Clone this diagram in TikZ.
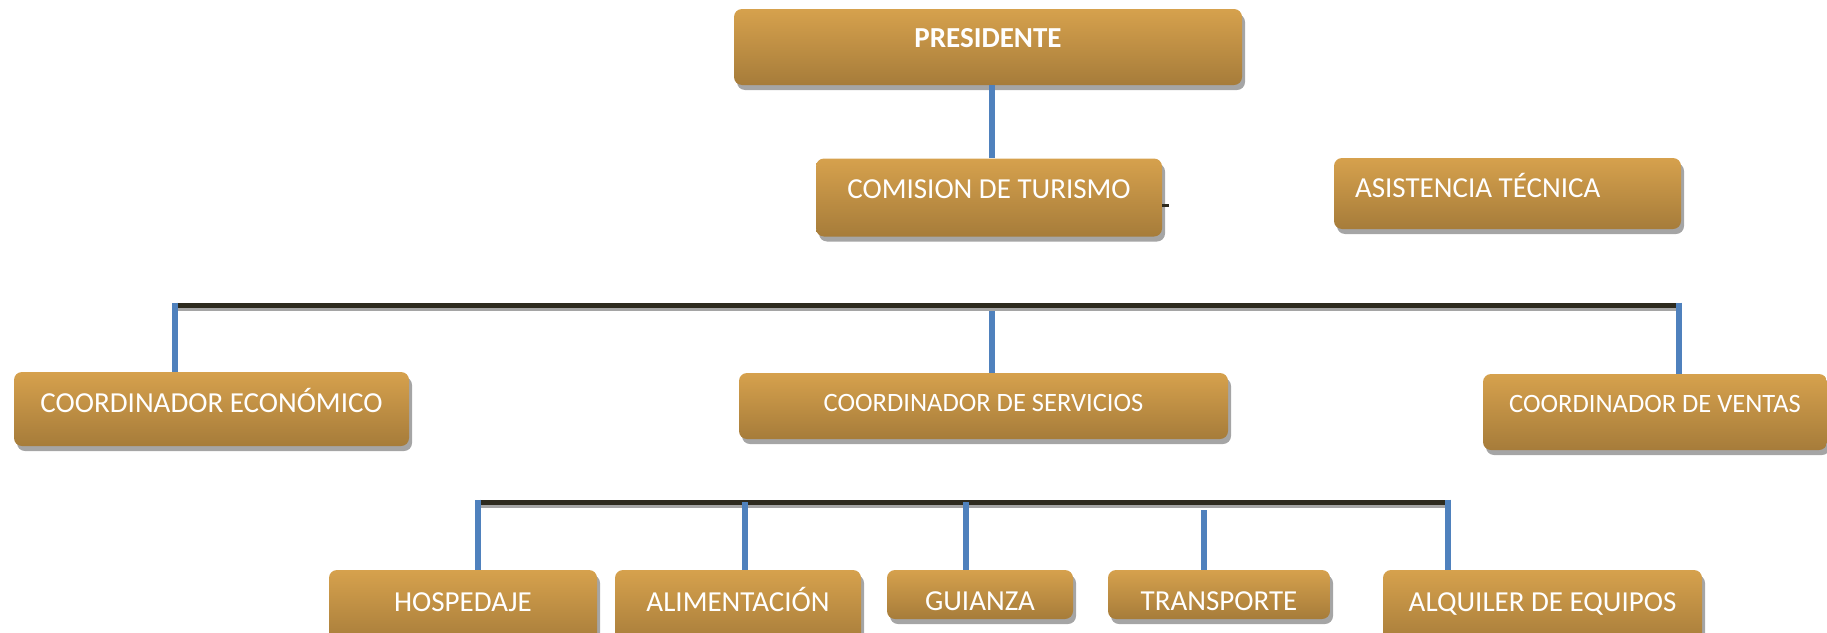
\documentclass[tikz,border=0pt]{standalone}
\usepackage{fontspec}
\setmainfont{Carlito}
\usepackage{tikz}
\usetikzlibrary{shadows}

\definecolor{oroA}{RGB}{214,161,77}
\definecolor{oroB}{RGB}{166,124,58}
\definecolor{azul}{RGB}{79,129,189}
\definecolor{barra}{RGB}{45,42,30}
\definecolor{sombra}{RGB}{165,165,165}

\tikzset{
    caja/.style={rounded corners=8pt, top color=oroA, bottom color=oroB,
        text=white, inner sep=0pt, font=\fontsize{29}{34}\selectfont,
        text height=18.7pt,
        drop shadow={shadow xshift=3pt, shadow yshift=-5pt, fill=sombra, opacity=1}},
    chica/.style={font=\fontsize{26.5}{31}\selectfont, text height=17.1pt},
    rama/.style={draw=azul, line width=6pt},
    bus/.style={draw=barra, line width=5pt},
    bussombra/.style={draw=sombra, line width=4pt}
}

\begin{document}
\begin{tikzpicture}[x=1pt, y=-1pt]
            \clip (0, 0) rectangle (1827, 632);
            \node [caja, font=\fontsize{29}{34}\selectfont\bfseries,
                minimum width=508, minimum height=76, text depth=17pt]
                (pres) at (988, 47) {PRESIDENTE};
            \node [caja, minimum width=346, minimum height=78, text depth=17pt]
                (comision) at (989, 197.5) {COMISION DE TURISMO};
            \node [caja, inner xsep=21, minimum height=71, text depth=11pt]
                (asist) at (1507.5, 193.5) {\makebox[305pt][l]{ASISTENCIA TÉCNICA}};
            \node [caja, minimum width=395, minimum height=74, text depth=12pt]
                (econ) at (211.5, 409) {COORDINADOR ECONÓMICO};
            \node [caja, chica, minimum width=489, minimum height=66, text depth=6pt]
                (serv) at (983.5, 406) {COORDINADOR DE SERVICIOS};
            \node [caja, chica, minimum width=344, minimum height=76, text depth=16pt]
                (ventas) at (1655, 412) {COORDINADOR DE VENTAS};
            \node [caja, minimum width=268, minimum height=75, text depth=11pt]
                (hosp) at (463, 607.5) {HOSPEDAJE};
            \node [caja, minimum width=246, minimum height=75, text depth=11pt]
                (alim) at (738, 607.5) {ALIMENTACIÓN};
            \node [caja, minimum width=186, minimum height=49,
                text height=31.7pt, text depth=0pt]
                (guia) at (980, 594.5) {GUIANZA};
            \node [caja, minimum width=222, minimum height=49,
                text height=31.7pt, text depth=0pt]
                (trans) at (1219, 594.5) {TRANSPORTE};
            \node [caja, minimum width=319, minimum height=75, text depth=11pt]
                (alq) at (1542.5, 607.5) {ALQUILER DE EQUIPOS};
            \coordinate (t) at (992, 0);
            \draw [rama] (t |- pres.south) -- (t |- comision.north);
            \draw [barra, line width=3pt] (comision.east) ++(0, 8) -- ++(7, 0);
            \coordinate (b1a) at (175, 305);
            \coordinate (b1b) at (992, 305);
            \coordinate (b1c) at (1679, 305);
            \draw [bussombra] ([yshift=-4pt]b1a) -- ([yshift=-4pt]b1c);
            \draw [bus] (b1a) -- (b1c);
            \draw [rama] ([yshift=2.5pt]b1a) -- (b1a |- econ.north);
            \draw [rama] ([yshift=-6pt]b1b) -- (b1b |- serv.north);
            \draw [rama] ([yshift=2.5pt]b1c) -- (b1c |- ventas.north);
            \coordinate (b2a) at (478, 502);
            \coordinate (b2b) at (745, 502);
            \coordinate (b2c) at (966, 502);
            \coordinate (b2d) at (1204, 502);
            \coordinate (b2e) at (1448, 502);
            \draw [bussombra] ([yshift=-4pt]b2a) -- ([yshift=-4pt]b2e);
            \draw [bus] (b2a) -- (b2e);
            \draw [rama] ([yshift=2.5pt]b2a) -- (b2a |- hosp.north);
            \draw [rama] (b2b) -- (b2b |- alim.north);
            \draw [rama] (b2c) -- (b2c |- guia.north);
            \draw [rama] ([yshift=-8pt]b2d) -- (b2d |- trans.north);
            \draw [rama] ([yshift=2.5pt]b2e) -- (b2e |- alq.north);
        \end{tikzpicture}
\end{document}
